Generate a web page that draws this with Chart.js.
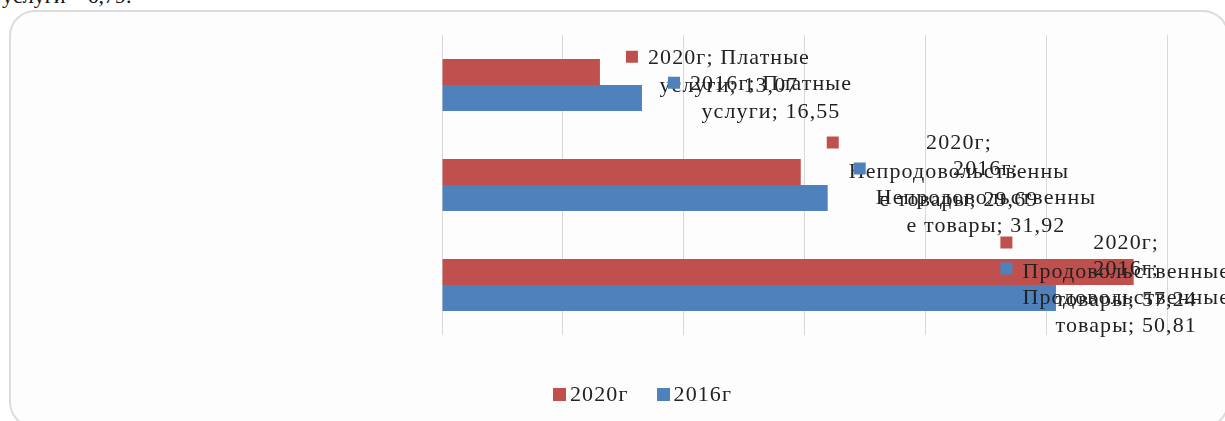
<!DOCTYPE html>
<html><head><meta charset="utf-8">
<script src="https://cdn.jsdelivr.net/npm/chart.js@4.4.0/dist/chart.umd.min.js"></script>
<style>
html,body{margin:0;padding:0;background:#fff;width:1225px;height:421px;overflow:hidden;position:relative;font-family:"Liberation Serif",serif;}
#doc{position:absolute;left:2px;top:-15px;font-size:22px;line-height:22px;color:#111;white-space:nowrap;}
#frame{position:absolute;left:9px;top:10px;width:1220px;height:418px;border:2px solid #dcdcdc;border-radius:26px;background:#fdfdfd;box-sizing:border-box;}
#c{position:absolute;left:0;top:0;}
#legend{position:absolute;top:382px;left:553px;display:flex;align-items:center;font-size:22px;letter-spacing:1.1px;color:#222;line-height:24px;}
#legend .it{display:flex;align-items:center;margin-right:28px;}
#legend .sw{width:13px;height:13px;margin-right:4px;}
</style>
</head><body>
<div id="doc">услуги – 6,79.</div>
<div id="frame"></div>
<canvas id="c" width="1225" height="421"></canvas>
<div id="legend"></div>
<script>
const categories = ['Платные услуги', 'Непродовольственные товары', 'Продовольственные товары'];
const seriesNames = ['2020г', '2016г'];
const values2020 = [13.07, 29.69, 57.24];
const values2016 = [16.55, 31.92, 50.81];
const axisTicks = [0, 10, 20, 30, 40, 50, 60];
const seriesColors = ['#C0504D', '#4F81BD'];

const FONT = '22px "Liberation Serif"';
const LS = '1.1px';
const LINE_H = 28.5;
const MAXW = 226;
const RIGHT_LIMIT = 1230;

function fmt(v){ return v.toFixed(2).replace('.', ','); }

function wrap(ctx, text, maxW){
  const words = text.split(' ');
  const lines = [];
  let cur = '';
  for (const w of words){
    const trial = cur ? cur + ' ' + w : w;
    if (ctx.measureText(trial).width <= maxW){ cur = trial; continue; }
    if (cur) lines.push(cur);
    if (ctx.measureText(w).width <= maxW){ cur = w; continue; }
    let piece = '';
    for (const ch of w){
      if (ctx.measureText(piece + ch).width <= maxW) piece += ch;
      else { lines.push(piece); piece = ch; }
    }
    cur = piece;
  }
  if (cur) lines.push(cur);
  return lines;
}

const labelPlugin = {
  id: 'barLabels',
  afterDatasetsDraw(chart){
    const ctx = chart.ctx;
    ctx.save();
    ctx.font = FONT;
    ctx.letterSpacing = LS;
    ctx.textAlign = 'center';
    ctx.textBaseline = 'middle';
    chart.data.datasets.forEach((ds, di) => {
      const meta = chart.getDatasetMeta(di);
      meta.data.forEach((bar, i) => {
        const text = ds.label + '; ' + categories[i] + '; ' + fmt(ds.data[i]);
        const lines = wrap(ctx, text, MAXW);
        const W = Math.max(...lines.map(l => ctx.measureText(l).width));
        const blockH = lines.length * LINE_H;
        let x0 = bar.x + 26;
        if (x0 + 22 + W > RIGHT_LIMIT) x0 = RIGHT_LIMIT - 22 - W;
        const top = bar.y - blockH / 2;
        ctx.fillStyle = ds.backgroundColor;
        ctx.fillRect(x0, top + LINE_H / 2 - 7, 12, 12);
        ctx.fillStyle = '#222';
        lines.forEach((l, k) => {
          ctx.fillText(l, x0 + 22 + W / 2, top + LINE_H * (k + 0.5));
        });
      });
    });
    ctx.restore();
  }
};

const chart = new Chart(document.getElementById('c'), {
  type: 'bar',
  data: {
    labels: categories,
    datasets: [
      { label: seriesNames[0], data: values2020, backgroundColor: seriesColors[0], borderWidth: 0 },
      { label: seriesNames[1], data: values2016, backgroundColor: seriesColors[1], borderWidth: 0 }
    ]
  },
  options: {
    indexAxis: 'y',
    responsive: false,
    animation: false,
    devicePixelRatio: 1,
    categoryPercentage: 0.52,
    barPercentage: 1,
    layout: { padding: { left: 442, right: 58, top: 35, bottom: 86 } },
    plugins: { legend: { display: false }, tooltip: { enabled: false } },
    scales: {
      x: {
        min: axisTicks[0], max: axisTicks[axisTicks.length - 1],
        afterBuildTicks: s => { s.ticks = axisTicks.map(v => ({ value: v })); },
        ticks: { display: false },
        grid: { color: '#d9d9d9', lineWidth: 1, drawTicks: false },
        border: { display: false },
        afterFit: s => { s.height = 0; }
      },
      y: {
        ticks: { display: false },
        grid: { display: false, drawTicks: false },
        border: { display: false },
        afterFit: s => { s.width = 0; }
      }
    }
  },
  plugins: [labelPlugin]
});

const legend = document.getElementById('legend');
seriesNames.forEach((n, i) => {
  const it = document.createElement('div'); it.className = 'it';
  const sw = document.createElement('div'); sw.className = 'sw'; sw.style.background = seriesColors[i];
  const tx = document.createElement('span'); tx.textContent = n;
  it.appendChild(sw); it.appendChild(tx); legend.appendChild(it);
});
</script>
</body></html>
